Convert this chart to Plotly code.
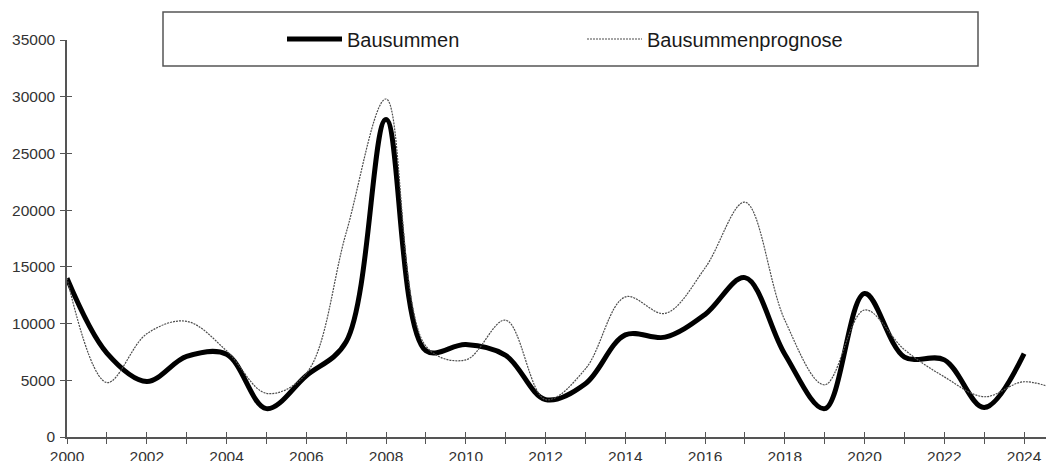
import plotly.graph_objects as go

years = list(range(2000, 2025))
bausummen = [14000, 7400, 4900, 7100, 7300, 2500, 5400, 8400, 28000, 7600,
             8150, 7200, 3300, 4700, 9000, 8800, 10800, 14050, 7300, 2500,
             12650, 7050, 6800, 2600, 7350]
years_prog = list(range(2000, 2026))
prognose = [14000, 4800, 9100, 10200, 7600, 3850, 5600, 18000, 29800, 8000,
            6800, 10300, 3300, 6000, 12350, 10900, 14900, 20700, 10300, 4600,
            11200, 7700, 5300, 3550, 4870, 3900]

y_ticks = list(range(0, 35001, 5000))

AX = "#555555"
FONT = "Liberation Sans, Arial, sans-serif"
W, H = 1046, 453  # page body has an 8px offset in the browser

fig = go.Figure()
fig.add_trace(go.Scatter(
    x=years, y=bausummen, name="Bausummen", mode="lines",
    line=dict(color="black", width=5, shape="spline", smoothing=1.0)))
fig.add_trace(go.Scatter(
    x=years_prog, y=prognose, name="Bausummenprognose", mode="lines",
    line=dict(color="#4d4d4d", width=1.2, dash="2px,1px", shape="spline", smoothing=1.0)))
# overlay axes for the inner half of crossing tick marks
fig.add_trace(go.Scatter(x=[], y=[], xaxis="x2", yaxis="y2", showlegend=False,
                         hoverinfo="skip"))

xr = [2000, 2024.75]
yr = [0, 35000]

fig.update_layout(
    width=W, height=H,
    margin=dict(l=59, r=0, t=32, b=24, autoexpand=False),
    paper_bgcolor="white", plot_bgcolor="white",
    font=dict(family=FONT, color="#333333", size=15),
    showlegend=True,
    legend=dict(orientation="h", xref="container", yref="container",
                x=274 / W, y=1 - 31 / H, xanchor="left", yanchor="middle",
                entrywidth=230, entrywidthmode="pixels", itemwidth=55,
                font=dict(size=20, color="#1a1a1a", family=FONT),
                bgcolor="rgba(0,0,0,0)", borderwidth=0),
    xaxis=dict(range=xr, showgrid=False, zeroline=False, showline=True,
               automargin=False,
               linecolor=AX, linewidth=1.5, ticks="outside", ticklen=5,
               tickwidth=1.2, tickcolor=AX, tick0=2000, dtick=2,
               minor=dict(dtick=1, ticks="outside", ticklen=5, tickwidth=1.2,
                          tickcolor=AX, showgrid=False),
               tickfont=dict(size=15.5, color="#333333")),
    yaxis=dict(range=yr, showgrid=False, zeroline=False, showline=True,
               automargin=False,
               linecolor=AX, linewidth=1.5, ticks="outside", ticklen=5,
               tickwidth=1.2, tickcolor=AX, tickvals=y_ticks,
               ticktext=[str(v) for v in y_ticks], ticklabelstandoff=2,
               tickfont=dict(size=15.5, color="#333333")),
    xaxis2=dict(range=xr, overlaying="x", anchor="y2", showgrid=False,
                automargin=False,
                zeroline=False, showline=False, ticks="inside", ticklen=5,
                tickwidth=1.2, tickcolor=AX, tick0=2000, dtick=2,
                minor=dict(dtick=1, ticks="inside", ticklen=5, tickwidth=1.2,
                           tickcolor=AX, showgrid=False),
                showticklabels=False),
    yaxis2=dict(range=yr, overlaying="y", anchor="x2", showgrid=False,
                automargin=False,
                zeroline=False, showline=False, ticks="inside", ticklen=5,
                tickwidth=1.2, tickcolor=AX, tickvals=y_ticks,
                showticklabels=False),
    shapes=[dict(type="rect", xref="paper", yref="paper",
                 x0=(163 - 67) / 987, x1=(978 - 67) / 987,
                 y0=(437 - 66) / 397, y1=(437 - 12) / 397,
                 line=dict(color="#555555", width=1.5), fillcolor="rgba(0,0,0,0)",
                 layer="below")],
)

fig.write_html("out.html")
